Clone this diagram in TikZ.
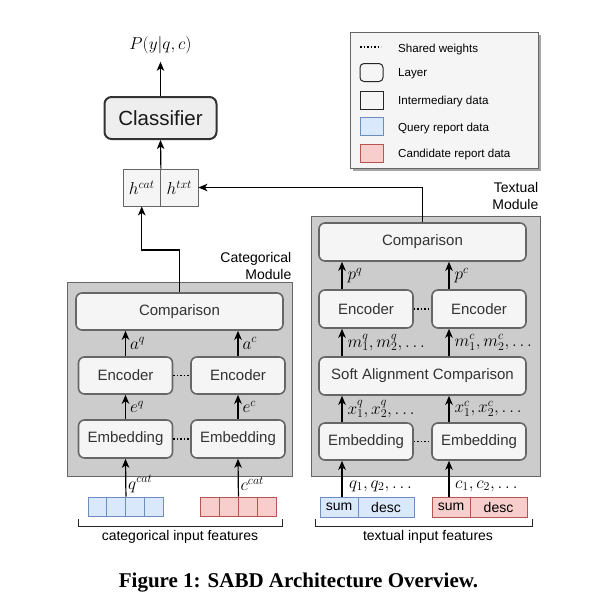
\documentclass[tikz,border=0pt]{standalone}
\usepackage{fontspec}
\setmainfont{Liberation Sans}
\newfontfamily\capfont{Liberation Serif}
\usetikzlibrary{arrows.meta,shadows}
\definecolor{modfill}{HTML}{CCCCCC}
\definecolor{moddraw}{HTML}{666666}
\definecolor{layfill}{HTML}{F5F5F5}
\definecolor{laydraw}{HTML}{666666}
\definecolor{clffill}{HTML}{EEEEEE}
\definecolor{clfdraw}{HTML}{333333}
\definecolor{qfill}{HTML}{DAE8FC}
\definecolor{qdraw}{HTML}{6C8EBF}
\definecolor{cfill}{HTML}{F8CECC}
\definecolor{cdraw}{HTML}{B85450}
\definecolor{txtc}{HTML}{333333}
\newcommand{\fsz}[2]{\fontsize{#1}{#2}\selectfont}
\begin{document}
\begin{tikzpicture}[x=1pt,y=-1pt,
  layer/.style={draw=laydraw, fill=layfill, line width=1.6pt, rounded corners=6pt, text=txtc, inner sep=0pt, font=\fsz{15}{18}},
  module/.style={draw=moddraw, fill=modfill, line width=0.9pt, inner sep=0pt},
  arr/.style={draw=black, line width=1.2pt, -{Stealth[length=9pt,width=7.5pt,inset=2.5pt]}},
  shared/.style={draw=black, line width=1.6pt, dash pattern=on 1.6pt off 1.9pt},
  qcell/.style={draw=qdraw, fill=qfill, line width=0.9pt, minimum width=18.75pt, minimum height=19pt, inner sep=0pt},
  ccell/.style={draw=cdraw, fill=cfill, line width=0.9pt, minimum width=19pt, minimum height=19pt, inner sep=0pt},
  qtxt/.style={draw=qdraw, fill=qfill, line width=0.9pt, minimum height=20pt, inner sep=0pt, font=\fsz{14}{16}},
  ctxt/.style={draw=cdraw, fill=cfill, line width=0.9pt, minimum height=20pt, inner sep=0pt, font=\fsz{14}{16}},
  lbl/.style={font=\fsz{14}{16}, inner sep=0pt},
  mlbl/.style={font=\fsz{17.5}{20}, inner sep=0pt},
  legtxt/.style={font=\fsz{11.6}{14}, inner sep=0pt, anchor=west},
  bracket/.style={draw=black!85, line width=0.9pt},
  hcell/.style={draw=laydraw, fill=layfill, line width=0.8pt, minimum width=37.5pt, minimum height=37pt, inner sep=0pt, font=\fsz{18.5}{20}},
  modlabel/.style={font=\fsz{14}{16.5}, align=right, inner sep=0pt, anchor=north east}
]
\useasboundingbox (0,0) rectangle (597,613);
\fill[white] (0,0) rectangle (597,613);

% ---------- legend ----------
\node[draw=laydraw, fill=layfill, line width=0.9pt, minimum width=188pt, minimum height=136pt, inner sep=0pt,
      drop shadow={shadow xshift=3pt, shadow yshift=-3pt, fill=black!35, opacity=1}] (leg) at (444,100) {};
\draw[shared] (360,47) -- (381,47);
\node[draw=black!85, fill=layfill, line width=1pt, rounded corners=4pt, minimum width=23pt, minimum height=18pt, inner sep=0pt] (legl) at (371.5,72.5) {};
\node[draw=black!85, fill=layfill, line width=1pt, minimum width=23pt, minimum height=18pt, inner sep=0pt] (legi) at (371.5,100) {};
\node[draw=qdraw, fill=qfill, line width=1pt, minimum width=23pt, minimum height=18pt, inner sep=0pt] (legq) at (371.5,126.5) {};
\node[draw=cdraw, fill=cfill, line width=1pt, minimum width=23pt, minimum height=18pt, inner sep=0pt] (legc) at (371.5,153) {};
\node[legtxt] (lt1) at (398,50) {Shared weights};
\node[legtxt] (lt2) at (398,73.5) {Layer};
\node[legtxt] (lt3) at (398,101) {Intermediary data};
\node[legtxt] (lt4) at (398,128) {Query report data};
\node[legtxt] (lt5) at (398,154.5) {Candidate report data};

% ---------- modules ----------
\node[module, minimum width=225pt, minimum height=194pt] (catmod) at (179.5,379) {};
\node[module, minimum width=229pt, minimum height=260pt] (txtmod) at (425.5,346) {};
\node[modlabel] (catlbl) at (291.5,252.5) {Categorical\\Module};
\node[modlabel] (txtlbl) at (538.5,182.5) {Textual\\Module};

% ---------- categorical layers ----------
\node[layer, minimum width=207pt, minimum height=37pt] (cmp1) at (179.5,311.5) {Comparison};
\node[layer, minimum width=94pt, minimum height=37pt] (enc1q) at (125.5,375.5) {Encoder};
\node[layer, minimum width=94pt, minimum height=37pt] (enc1c) at (238,375.5) {Encoder};
\node[layer, minimum width=94pt, minimum height=38pt] (emb1q) at (125.5,439) {Embedding};
\node[layer, minimum width=94pt, minimum height=38pt] (emb1c) at (238,439) {Embedding};
\draw[shared] (enc1q.east) -- (enc1c.west);
\draw[shared] (emb1q.east) -- (emb1c.west);

% ---------- textual layers ----------
\node[layer, minimum width=207pt, minimum height=38pt] (cmp2) at (422.5,242) {Comparison};
\node[layer, minimum width=94pt, minimum height=38pt] (enc2q) at (366,309) {Encoder};
\node[layer, minimum width=94pt, minimum height=38pt] (enc2c) at (479,309) {Encoder};
\node[layer, minimum width=207pt, minimum height=38pt] (sac) at (422.5,376) {Soft Alignment Comparison};
\node[layer, minimum width=94pt, minimum height=37pt] (emb2q) at (366,441.5) {Embedding};
\node[layer, minimum width=94pt, minimum height=37pt] (emb2c) at (479,441.5) {Embedding};
\draw[shared] (enc2q.east) -- (enc2c.west);
\draw[shared] (emb2q.east) -- (emb2c.west);

% ---------- top ----------
\node[draw=clfdraw, fill=clffill, line width=2pt, rounded corners=7pt, minimum width=112pt, minimum height=42pt, inner sep=0pt, text=black!90, font=\fsz{20.5}{24}] (clf) at (160.5,118) {Classifier};
\node[hcell] (hcat) at (141.75,187.5) {$h^{cat}$};
\node[hcell] (htxt) at (179.25,187.5) {$h^{txt}$};
\node[inner sep=0pt, font=\fsz{16}{18}] (pout) at (160.5,45) {$P(y|q,c)$};

% ---------- categorical inputs ----------
\node[qcell] (q1) at (97.375,506.5) {};
\node[qcell] (q2) at (116.125,506.5) {};
\node[qcell] (q3) at (134.875,506.5) {};
\node[qcell] (q4) at (153.625,506.5) {};
\node[ccell] (c1) at (209.5,506.5) {};
\node[ccell] (c2) at (228.5,506.5) {};
\node[ccell] (c3) at (247.5,506.5) {};
\node[ccell] (c4) at (266.5,506.5) {};
\node[mlbl, anchor=west] (qcat) at (128,484) {$q^{cat}$};
\node[mlbl, anchor=west] (ccat) at (240.5,484) {$c^{cat}$};

% ---------- textual inputs ----------
\node[qtxt, minimum width=38pt] (sum1) at (339,507) {sum};
\node[qtxt, minimum width=56pt] (desc1) at (386,507) {desc};
\node[ctxt, minimum width=38pt] (sum2) at (451,507) {sum};
\node[ctxt, minimum width=57pt] (desc2) at (498.5,507) {desc};
\node[mlbl, anchor=west] (qtl) at (349,486) {$q_1, q_2, \ldots$};
\node[mlbl, anchor=west] (ctl) at (455,486) {$c_1, c_2, \ldots$};

% ---------- brackets ----------
\draw[bracket] (78,519) -- (78,526) -- (282,526) -- (282,519);
\draw[bracket] (315,519) -- (315,526) -- (532,526) -- (532,519);
\node[lbl] (catin) at (180,537) {categorical input features};
\node[lbl] (txtin) at (428,537) {textual input features};

% ---------- categorical arrows ----------
\draw[arr] (q2.north east) -- (emb1q.south);
\draw[arr] (c2.north east) -- (emb1c.south);
\draw[arr] (emb1q.north) -- node[mlbl, right=4pt] {$e^q$} (enc1q.south);
\draw[arr] (emb1c.north) -- node[mlbl, right=4pt] {$e^c$} (enc1c.south);
\draw[arr] (enc1q.north) -- node[mlbl, right=4pt] {$a^q$} (cmp1.south -| enc1q.north);
\draw[arr] (enc1c.north) -- node[mlbl, right=4pt] {$a^c$} (cmp1.south -| enc1c.north);

% ---------- textual arrows ----------
\coordinate (tq) at (342,0);
\coordinate (tc) at (449,0);
\draw[arr] (sum1.north -| tq) -- (emb2q.south -| tq);
\draw[arr] (sum2.north -| tc) -- (emb2c.south -| tc);
\draw[arr] (emb2q.north -| tq) -- node[mlbl, right=5pt] {$x_1^q, x_2^q, \ldots$} (sac.south -| tq);
\draw[arr] (emb2c.north -| tc) -- node[mlbl, right=5pt] {$x_1^c, x_2^c, \ldots$} (sac.south -| tc);
\draw[arr] (sac.north -| tq) -- node[mlbl, right=5pt] {$m_1^q, m_2^q, \ldots$} (enc2q.south -| tq);
\draw[arr] (sac.north -| tc) -- node[mlbl, right=5pt] {$m_1^c, m_2^c, \ldots$} (enc2c.south -| tc);
\draw[arr] (enc2q.north -| tq) -- node[mlbl, right=5pt] {$p^q$} (cmp2.south -| tq);
\draw[arr] (enc2c.north -| tc) -- node[mlbl, right=5pt] {$p^c$} (cmp2.south -| tc);

% ---------- module outputs ----------
\coordinate (bend1) at (180,250);
\draw[arr] (cmp1.north) -- (cmp1.north |- bend1) -| (hcat.south);
\draw[arr] (cmp2.north) |- (htxt.east);
\draw[arr] (hcat.north east) -- (clf.south);
\draw[arr, shorten >=8pt] (clf.north) -- (pout.south);

% ---------- caption ----------
\node[inner sep=0pt, font=\capfont\bfseries\fsz{21}{24}] (cap) at (298.5,583) {Figure 1: SABD Architecture Overview.};
\end{tikzpicture}
\end{document}
